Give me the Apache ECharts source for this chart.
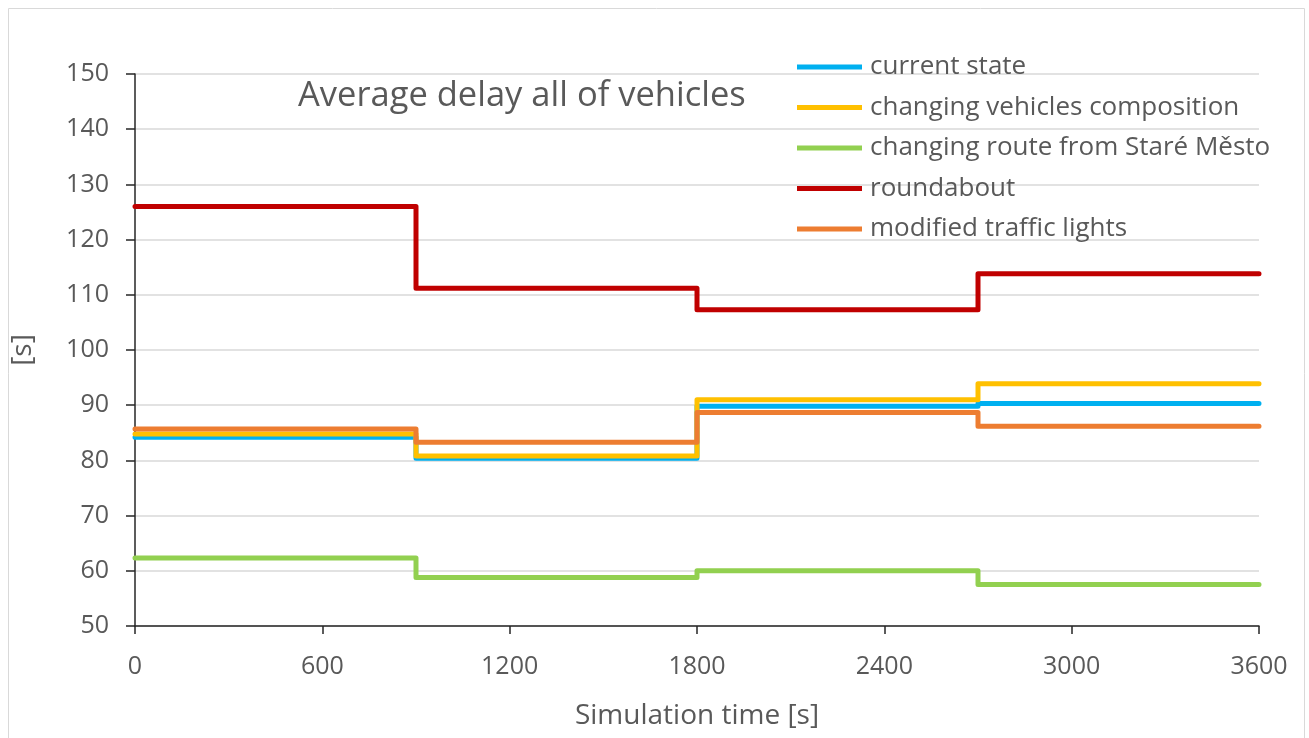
<!DOCTYPE html>
<html><head><meta charset="utf-8">
<script src="https://cdn.jsdelivr.net/npm/echarts@6/dist/echarts.min.js"></script>
<style>html,body{margin:0;padding:0;background:#fff;overflow:hidden}#c{width:1309px;height:738px}</style>
</head><body><div id="c"></div>
<script>
var times = [0, 900, 1800, 2700, 3600];
var currentState = [84.2, 80.4, 89.8, 90.3, 90.3];
var changingVehicles = [84.8, 80.8, 91.0, 93.9, 93.9];
var changingRoute = [62.3, 58.8, 60.0, 57.5, 57.5];
var roundabout = [126.0, 111.2, 107.3, 113.8, 113.8];
var modifiedLights = [85.7, 83.3, 88.7, 86.2, 86.2];
var xTicks = [0, 600, 1200, 1800, 2400, 3000, 3600];

var names = ['current state','changing vehicles composition','changing route from Staré Město','roundabout','modified traffic lights'];
var colors = ['#00B0F0','#FFC000','#92D050','#C00000','#ED7D31'];
var arrays = [currentState, changingVehicles, changingRoute, roundabout, modifiedLights];
var FONT = 'Open Sans';
function pairs(a){ return times.map(function(t,i){return [t,a[i]];}); }

var chart = echarts.init(document.getElementById('c'));
chart.setOption({
  animation:false,
  color: colors,
  graphic:[{type:'rect',shape:{x:8.5,y:8.5,width:1296,height:740},style:{fill:'none',stroke:'#d9d9d9',lineWidth:1}}],
  title:{text:'Average delay all of vehicles',left:293,top:74,textStyle:{fontFamily:FONT,fontSize:34.5,fontWeight:'normal',color:'#595959'}},
  legend:{orient:'vertical',left:792,top:47,icon:'rect',itemWidth:65,itemHeight:5,itemGap:10.5,
    data:names,
    textStyle:{fontFamily:FONT,fontSize:26,color:'#595959',lineHeight:30,padding:[0,0,0,3]}},
  grid:{left:135,right:50,top:74,bottom:112},
  xAxis:{type:'value',min:0,max:3600,interval:600,
    name:'Simulation time [s]',nameLocation:'middle',nameGap:76,
    nameTextStyle:{fontFamily:FONT,fontSize:28,color:'#595959'},
    axisLine:{lineStyle:{color:'#262626',width:1.5}},
    axisTick:{show:true,length:8,lineStyle:{color:'#262626',width:1.5}},
    axisLabel:{fontFamily:FONT,fontSize:25,color:'#595959',margin:28,
      formatter:function(v){return xTicks.indexOf(v)>=0?String(v):'';}},
    splitLine:{show:false}},
  yAxis:{type:'value',min:50,max:150,interval:10,
    name:'[s]',nameLocation:'middle',nameGap:98,
    nameTextStyle:{fontFamily:FONT,fontSize:28,color:'#595959'},
    axisLine:{show:true,lineStyle:{color:'#262626',width:1.5}},
    axisTick:{show:true,inside:false,length:9,lineStyle:{color:'#262626',width:1.5}},
    axisLabel:{fontFamily:FONT,fontSize:25,color:'#595959',margin:26},
    splitLine:{lineStyle:{color:'#d9d9d9',width:1.5}}},
  series: arrays.map(function(a,i){
    return {name:names[i],type:'line',step:'end',data:pairs(a),showSymbol:false,symbol:'none',
      lineStyle:{width:5,color:colors[i],cap:'round',join:'round'},itemStyle:{color:colors[i]}};
  })
});
</script></body></html>
